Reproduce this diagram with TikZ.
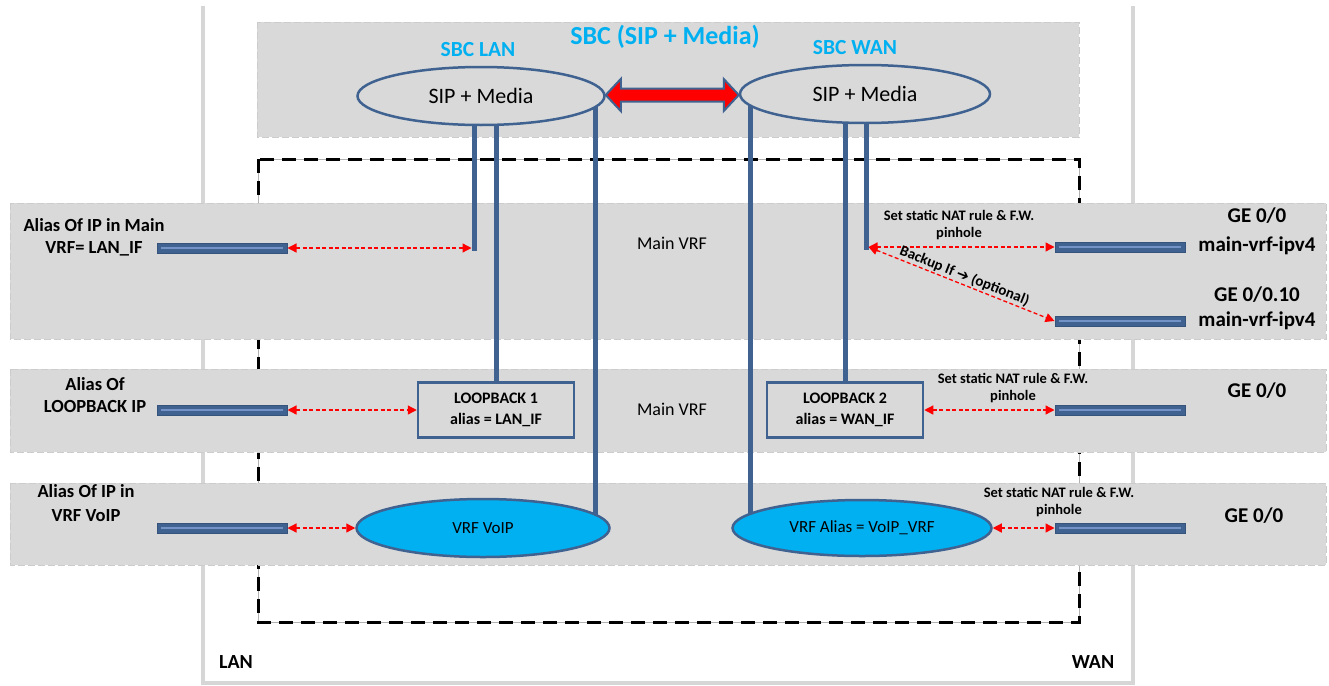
\documentclass[tikz,border=0pt]{standalone}
\usepackage{fontspec}
\setmainfont{Carlito}
\newfontfamily\symfont{DejaVu Sans}
\usepackage{tikz}
\usetikzlibrary{arrows.meta,shapes.geometric,calc}
\pgfdeclarelayer{bands}
\pgfdeclarelayer{pipes}
\pgfsetlayers{bands,pipes,main}

\definecolor{bandgray}{HTML}{D9D9D9}
\definecolor{framegray}{HTML}{D6D6D6}
\definecolor{sbccyan}{HTML}{00B0F0}
\definecolor{linkblue}{HTML}{3F6291}
\definecolor{barlight}{HTML}{7393C6}

\tikzset{
  band/.style={fill=bandgray, draw=white!80!black, dash pattern=on 7pt off 3pt, line width=0.8pt},
  sbcell/.style={ellipse, draw=linkblue, line width=2.5pt, fill=bandgray, inner sep=0pt,
    font=\fontsize{22}{26}\selectfont},
  vrfell/.style={ellipse, draw=linkblue, line width=2.5pt, fill=sbccyan, inner sep=0pt,
    font=\fontsize{17}{20}\selectfont},
  loopbox/.style={rectangle, draw=linkblue, line width=2.5pt, fill=bandgray, minimum width=156pt,
    minimum height=55pt, align=center, font=\bfseries\fontsize{16}{21}\selectfont},
  ifbar/.style={rectangle, draw=linkblue!85!black, fill=linkblue, line width=1pt, minimum width=130pt,
    minimum height=10pt, inner sep=0pt,
    path picture={\draw[barlight, line width=1.8pt] ([xshift=4pt]path picture bounding box.west)
      -- ([xshift=-4pt]path picture bounding box.east);}},
  pipe/.style={draw=linkblue, line width=5pt},
  natlink/.style={red, line width=1.3pt, dash pattern=on 4pt off 2.5pt,
    {Triangle[length=9pt,width=9pt]}-{Triangle[length=9pt,width=9pt]}},
  sidelabel/.style={align=center, font=\bfseries\fontsize{18.5}{22}\selectfont},
  natlabel/.style={align=center, font=\bfseries\fontsize{14.5}{17}\selectfont},
  gelabel/.style={align=center, font=\bfseries\fontsize{21}{29}\selectfont},
  vrflabel/.style={font=\fontsize{18}{22}\selectfont},
  sbclabel/.style={text=sbccyan, font=\bfseries\fontsize{21.5}{24}\selectfont},
}

\begin{document}
\begin{tikzpicture}[x=1pt,y=-1pt]
\useasboundingbox (0,0) rectangle (1329,685);

\begin{pgfonlayer}{bands}
  % LAN / WAN frame
  \draw[framegray, line width=4.5pt] (203,6) -- (203,683) -- (1133,683) -- (1133,6);
  % dashed box round the VRFs
  \draw[black!30, line width=0.6pt] (258,159) rectangle (1079,622);
  \draw[black, line width=3pt, dash pattern=on 14pt off 8pt] (258,159) rectangle (1079,622);
  % gray bands
  \draw[band] (257,22) rectangle (1079,137);
  \draw[band] (10,203) rectangle (1326,339);
  \draw[band] (10,369) rectangle (1326,452);
  \draw[band] (10,483) rectangle (1326,565);
\end{pgfonlayer}

% SBC
\node[text=sbccyan, font=\bfseries\fontsize{26}{30}\selectfont] (sbc) at (665,37) {SBC (SIP + Media)};
\node[sbclabel] (sbclan) at (478,50) {SBC LAN};
\node[sbclabel] (sbcwan) at (855,48) {SBC WAN};
\node[sbcell, minimum width=247pt, minimum height=58pt] (lan) at (481,96) {SIP + Media};
\node[sbcell, minimum width=250pt, minimum height=58pt] (wan) at (865,94) {SIP + Media};
\draw[linkblue, line width=2pt, fill=red] let \p1=(lan.east), \p2=(wan.west), \n1={0.5*(\y1+\y2)} in
  (\x1,\n1) -- (\x1+15pt,\n1+16pt) -- (\x1+15pt,\n1+6.5pt) -- (\x2-15pt,\n1+6.5pt)
  -- (\x2-15pt,\n1+16pt) -- (\x2,\n1) -- (\x2-15pt,\n1-16pt) -- (\x2-15pt,\n1-6.5pt)
  -- (\x1+15pt,\n1-6.5pt) -- (\x1+15pt,\n1-16pt) -- cycle;

% row 1
\node[sidelabel] (a1) at (94,237) {Alias Of IP in Main\\VRF= LAN\_IF};
\node[ifbar] (lb1) at (222,248) {};
\coordinate (lanif) at (474,248);
\node[vrflabel] (m1) at (672,243) {Main VRF};
\coordinate (wanif) at (866,247);
\node[natlabel] (n1) at (959,225) {Set static NAT rule \& F.W.\\pinhole};
\node[ifbar] (wb1) at (1120,247) {};
\node[gelabel] (g1) at (1257,231) {GE 0/0\\main-vrf-ipv4};
\node[ifbar] (wb2) at (1120,321) {};
\node[gelabel, font=\bfseries\fontsize{21}{25}\selectfont] (g2) at (1257,308) {GE 0/0.10\\main-vrf-ipv4};
\draw[natlink] (lb1) -- ([xshift=-2.5pt]lanif);
\draw[natlink] ([xshift=2.5pt]wanif) -- (wb1.west);
\draw[natlink] ([xshift=2.5pt]wanif) -- node[sloped, above=0pt, text=black, inner sep=1pt,
  font=\bfseries\fontsize{15}{16}\selectfont] (bk) {Backup If {\symfont\bfseries\fontsize{15}{16}\selectfont ➔} (optional)} (wb2.west);

% row 2
\node[sidelabel] (a2) at (95,395) {Alias Of\\LOOPBACK IP};
\node[ifbar] (lb2) at (222,410) {};
\node[loopbox] (lp1) at (496,410) {LOOPBACK 1\\alias = LAN\_IF};
\node[vrflabel] (m2) at (672,409) {Main VRF};
\node[loopbox] (lp2) at (845,410) {LOOPBACK 2\\alias = WAN\_IF};
\node[natlabel] (n2) at (1013,388) {Set static NAT rule \& F.W.\\pinhole};
\node[ifbar] (wb3) at (1120,410) {};
\node[gelabel] (g3) at (1257,391) {GE 0/0};
\draw[natlink] (lb2) -- (lp1);
\draw[natlink] (lp2) -- (wb3);

% row 3
\node[sidelabel, font=\bfseries\fontsize{18.5}{24}\selectfont] (a3) at (86,503) {Alias Of IP in\\VRF VoIP};
\node[ifbar] (lb3) at (222,528) {};
\node[vrfell, minimum width=253pt, minimum height=58pt] (voip) at (483,528) {VRF VoIP};
\node[vrfell, minimum width=259pt, minimum height=56pt] (valias) at (862,528) {VRF Alias = VoIP\_VRF};
\node[natlabel] (n3) at (1059,502) {Set static NAT rule \& F.W.\\pinhole};
\node[ifbar] (wb4) at (1120,528) {};
\node[gelabel] (g4) at (1254,516) {GE 0/0};
\draw[natlink] (lb3) -- (voip);
\draw[natlink] (valias) -- (wb4);

\node[font=\bfseries\fontsize{20}{22}\selectfont] (lanlbl) at (236,662) {LAN};
\node[font=\bfseries\fontsize{20}{22}\selectfont] (wanlbl) at (1093,662) {WAN};

% links from the SBC ellipses
\coordinate (lanvoip) at ([xshift=112pt]voip.center);
\coordinate (wanvoip) at ([xshift=-112pt]valias.center);
\begin{pgfonlayer}{pipes}
  \draw[pipe] (lanif |- lan.center) -- ([yshift=-3pt]lanif);
  \draw[pipe] (lp1.north |- lan.center) -- (lp1.north);
  \draw[pipe] (lanvoip) -- (lanvoip |- lan.center);
  \draw[pipe] (wanvoip) -- (wanvoip |- wan.center);
  \draw[pipe] (lp2.north |- wan.center) -- (lp2.north);
  \draw[pipe] (wanif |- wan.center) -- ([yshift=-3pt]wanif);
\end{pgfonlayer}
\end{tikzpicture}
\end{document}
